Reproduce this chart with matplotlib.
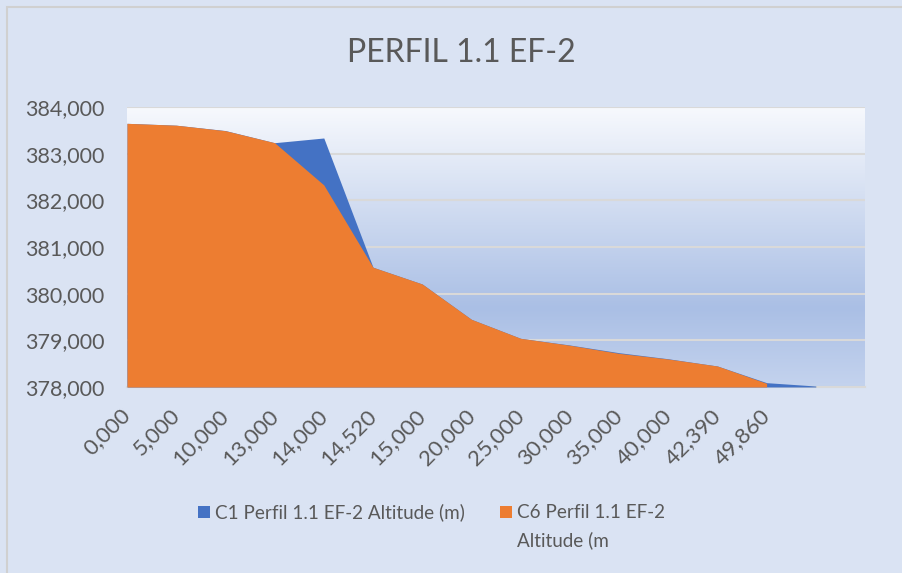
import matplotlib
matplotlib.use("Agg")
import matplotlib.pyplot as plt
import matplotlib.transforms as mtransforms
import numpy as np
from matplotlib.colors import LinearSegmentedColormap
from matplotlib.patches import Rectangle

categories = ["0,000", "5,000", "10,000", "13,000", "14,000", "14,520", "15,000",
              "20,000", "25,000", "30,000", "35,000", "40,000", "42,390", "49,860", "", ""]
c1_altitude = [383650, 383610, 383495, 383235, 383336, 380566, 380207, 379450,
               379043, 378900, 378735, 378605, 378450, 378093, 378021]
c6_altitude = [383650, 383610, 383492, 383235, 382330, 380566, 380207, 379450,
               379043, 378895, 378721, 378600, 378450, 378079]
yticks = [378000, 379000, 380000, 381000, 382000, 383000, 384000]

title = "PERFIL 1.1 EF-2"
label_c1 = "C1 Perfil 1.1 EF-2 Altitude (m)"
label_c6 = "C6 Perfil 1.1 EF-2"
label_c6b = "Altitude (m"

plt.rcParams['font.family'] = ['Lato', 'DejaVu Sans']
txt = '#595959'
blue = '#4472C4'
orange = '#ED7D31'

fig = plt.figure(figsize=(9.03, 5.73), dpi=100)
fig.patch.set_facecolor('#DAE3F3')
# outer border
fig.add_artist(Rectangle((7/903, -0.01), 1.2, 1 - 7/573 + 0.01, transform=fig.transFigure,
                         fill=False, edgecolor='#D0D0D0', linewidth=1.5))

ax = fig.add_axes([127/903, 1 - 387/573, (865 - 127)/903, (387 - 107)/573])
ax.set_facecolor('none')

# gradient background
cmap = LinearSegmentedColormap.from_list('g', [(0, '#F7F9FD'), (0.72, '#AABFE5'), (1.0, '#C4D3EE')])
grad = np.linspace(0, 1, 256).reshape(-1, 1)
ax.imshow(grad, aspect='auto', cmap=cmap, extent=[0, 1, 0, 1], transform=ax.transAxes,
          zorder=0, interpolation='bicubic')

x1 = np.arange(len(c1_altitude))
x6 = np.arange(len(c6_altitude))
base = yticks[0]
ax.fill_between(x1, c1_altitude, base, color=blue, linewidth=0, zorder=5)
ax.fill_between(x6, c6_altitude, base, color=orange, linewidth=0, zorder=6)

ax.set_xlim(0, len(categories) - 1)
ax.set_ylim(yticks[0], yticks[-1])
ax.set_yticks(yticks)
ax.set_yticklabels([f"{v:,}" for v in yticks], fontsize=15.5, color=txt)
ax.set_xticks(np.arange(len(categories)))
ax.set_xticklabels(categories, rotation=45, ha='right', rotation_mode='anchor',
                   fontsize=16, color=txt)
ax.tick_params(axis='y', length=0, pad=16)
ax.tick_params(axis='x', length=0, pad=13)
offset = mtransforms.ScaledTranslation(-7/100, 0, fig.dpi_scale_trans)
for lab in ax.get_xticklabels():
    lab.set_transform(lab.get_transform() + offset)
ax.set_axisbelow(True)
ax.grid(axis='y', color='#D9D9D9', linewidth=1.5)
for s in ['left', 'right', 'top']:
    ax.spines[s].set_visible(False)
ax.spines['bottom'].set_color('#D9D9D9')
ax.spines['bottom'].set_linewidth(1.5)
ax.spines['bottom'].set_zorder(4)

fig.text(461/903, 1 - 53/573, title, ha='center', va='center', fontsize=23, color=txt)

# legend
fig.add_artist(Rectangle((198/903, 1 - 518/573), 12/903, 12/573, transform=fig.transFigure,
                         facecolor=blue, edgecolor='none'))
fig.text(215/903, 1 - 512/573, label_c1, ha='left', va='center', fontsize=13.6, color=txt)
fig.add_artist(Rectangle((500/903, 1 - 518/573), 12/903, 12/573, transform=fig.transFigure,
                         facecolor=orange, edgecolor='none'))
fig.text(517/903, 1 - 512/573, label_c6, ha='left', va='center', fontsize=13.6, color=txt)
fig.text(517/903, 1 - 540/573, label_c6b, ha='left', va='center', fontsize=13.6, color=txt)

fig.savefig('out.png', dpi=100, facecolor=fig.get_facecolor())
